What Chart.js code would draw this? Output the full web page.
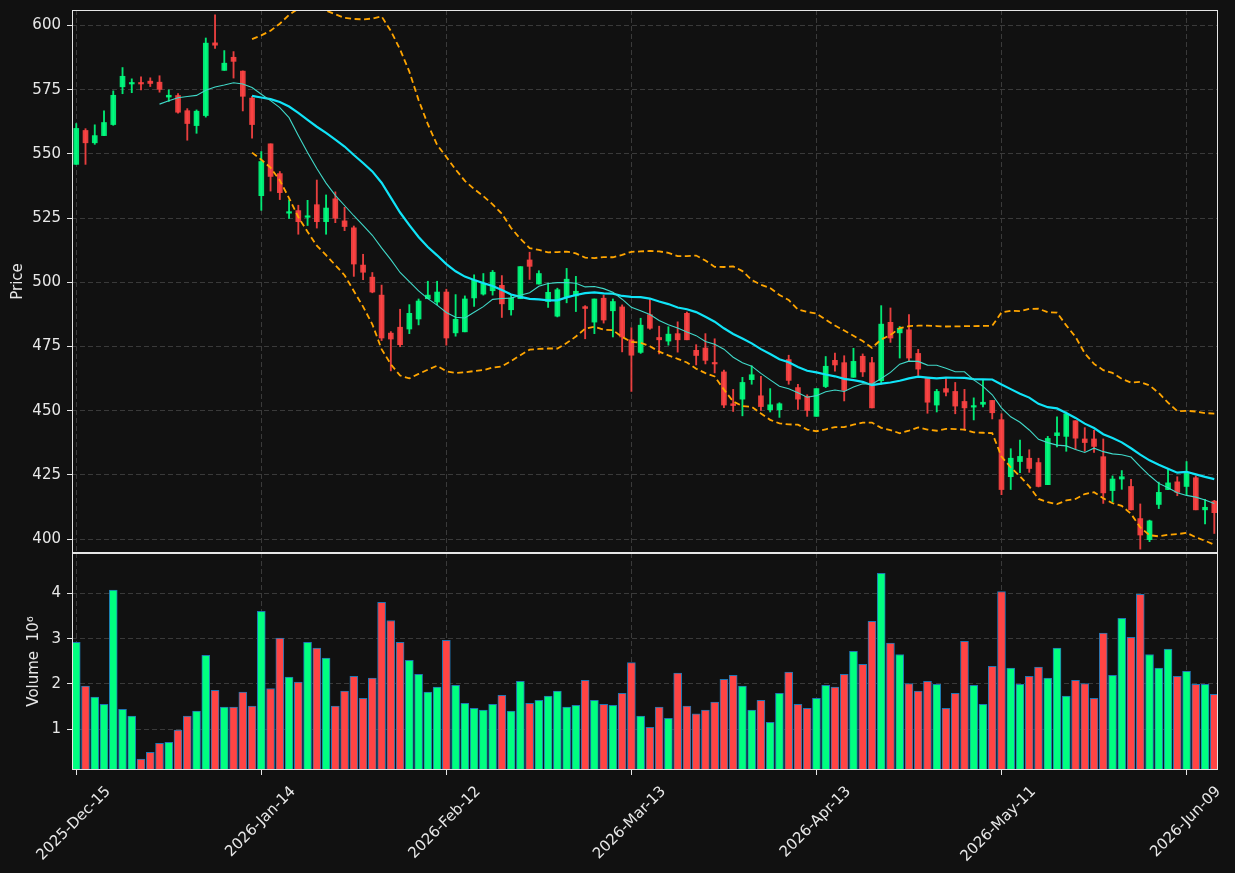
<!DOCTYPE html>
<html>
<head>
<meta charset="utf-8">
<script src="https://cdn.jsdelivr.net/npm/chart.js@4.4.1/dist/chart.umd.min.js"></script>
<style>
  html, body { margin: 0; padding: 0; background: #111111; }
  #wrap { position: relative; width: 1235px; height: 873px; overflow: hidden; }
  #priceChart { position: absolute; left: 0; top: 0; }
  #volumeChart { position: absolute; left: 0; top: 552px; }
</style>
</head>
<body>
<div id="wrap">
  <canvas id="priceChart" width="1235" height="553"></canvas>
  <canvas id="volumeChart" width="1235" height="321"></canvas>
</div>
<script>
// daily OHLC, one entry per trading day
const opens = [
  545.9, 559.1, 554.3, 557.1, 561.4, 576.1, 577.2, 577.5, 578.3, 577.9,
  572.1, 572.7, 566.8, 561.0, 564.9, 593.2, 582.5, 587.6, 582.2, 571.7,
  533.7, 553.9, 542.3, 526.9, 527.9, 525.3, 530.2, 523.6, 532.5, 523.9,
  521.2, 506.7, 502.0, 495.0, 480.2, 482.5, 481.8, 485.7, 493.6, 492.3,
  496.2, 480.3, 480.7, 493.9, 495.4, 496.7, 498.8, 489.3, 493.6, 508.7,
  499.3, 492.5, 486.8, 494.2, 494.7, 490.5, 484.5, 493.8, 488.9, 490.4,
  477.6, 472.7, 487.4, 478.5, 477.1, 480.0, 487.9, 473.5, 474.4, 468.7,
  465.1, 452.7, 454.5, 462.1, 455.8, 450.4, 450.4, 469.9, 459.0, 455.6,
  447.8, 459.4, 469.6, 468.7, 463.0, 471.2, 468.7, 461.7, 484.4, 480.3,
  481.5, 472.3, 462.7, 452.2, 458.6, 457.5, 453.6, 451.4, 452.5, 454.0,
  446.5, 424.3, 430.2, 431.5, 429.8, 421.2, 440.3, 440.0, 446.1, 439.0,
  439.0, 432.1, 418.9, 423.4, 420.5, 408.0, 399.8, 413.5, 419.3, 422.3,
  420.5, 423.9, 411.4, 414.8
];
const highs = [
  561.8, 559.8, 561.3, 566.7, 574.5, 583.6, 579.2, 580.0, 579.6, 580.4,
  574.9, 573.5, 567.6, 567.1, 595.1, 604.1, 590.2, 589.8, 582.3, 572.4,
  550.9, 553.9, 543.1, 532.1, 530.0, 531.9, 539.8, 534.0, 535.2, 529.2,
  521.9, 510.9, 503.8, 498.9, 480.8, 489.5, 491.3, 493.5, 500.4, 500.4,
  497.3, 495.2, 494.7, 502.9, 503.4, 504.6, 502.6, 495.0, 506.1, 511.7,
  504.5, 499.7, 497.7, 505.4, 502.3, 490.9, 493.5, 495.0, 493.5, 491.2,
  482.3, 486.0, 493.6, 482.9, 482.7, 484.6, 488.4, 475.7, 480.0, 478.0,
  465.8, 458.3, 463.0, 467.5, 463.4, 458.6, 453.1, 471.6, 460.3, 456.2,
  458.6, 471.1, 472.4, 471.4, 474.3, 472.1, 470.8, 490.9, 490.0, 482.8,
  487.4, 473.9, 462.7, 458.3, 462.7, 461.0, 458.3, 455.0, 461.9, 454.0,
  448.8, 435.2, 438.6, 434.8, 431.5, 440.0, 447.6, 449.5, 446.1, 443.4,
  442.4, 439.0, 424.6, 426.7, 423.3, 413.7, 407.4, 422.2, 427.3, 424.3,
  430.2, 424.6, 415.5, 415.1
];
const lows = [
  545.9, 545.9, 553.7, 557.1, 561.1, 573.4, 573.8, 574.9, 576.2, 574.0,
  570.4, 565.8, 555.3, 558.0, 564.3, 591.0, 582.5, 579.5, 566.7, 556.1,
  528.0, 535.5, 532.2, 524.9, 518.7, 522.1, 521.1, 518.7, 523.2, 520.1,
  502.3, 501.0, 495.9, 477.3, 465.5, 474.9, 480.0, 483.4, 493.6, 491.2,
  475.5, 479.0, 480.7, 490.6, 495.0, 495.0, 486.3, 487.2, 493.6, 501.1,
  499.3, 490.2, 486.5, 492.0, 488.6, 478.0, 480.0, 484.1, 478.7, 472.9,
  457.5, 472.3, 481.7, 472.1, 475.5, 472.8, 477.6, 467.8, 468.2, 464.7,
  451.2, 449.7, 448.0, 460.3, 450.1, 449.5, 447.4, 460.3, 450.5, 447.8,
  447.8, 459.0, 465.4, 453.8, 463.0, 463.3, 451.1, 460.3, 476.6, 470.5,
  469.5, 463.7, 449.0, 449.5, 455.8, 448.8, 442.4, 446.4, 451.5, 446.8,
  417.3, 419.3, 425.9, 426.0, 420.3, 421.2, 435.9, 434.2, 434.9, 434.2,
  433.8, 413.9, 414.4, 419.4, 411.4, 396.1, 399.0, 411.9, 419.3, 416.9,
  417.3, 411.4, 405.9, 402.2
];
const closes = [
  559.9, 554.3, 557.1, 562.2, 572.8, 580.2, 577.4, 577.2, 577.4, 575.1,
  572.8, 566.2, 561.8, 566.6, 593.1, 592.3, 585.3, 586.0, 572.4, 561.4,
  547.0, 541.2, 534.9, 527.4, 523.6, 525.7, 523.6, 528.9, 524.9, 521.7,
  507.1, 503.9, 496.2, 478.3, 477.9, 475.7, 487.9, 492.7, 495.0, 496.2,
  478.3, 485.6, 493.5, 500.8, 499.5, 503.9, 491.6, 493.9, 506.1, 506.2,
  503.4, 496.1, 497.1, 501.2, 496.5, 489.8, 493.5, 485.3, 492.5, 478.7,
  471.6, 483.3, 482.1, 477.6, 479.8, 477.6, 477.6, 471.5, 469.6, 468.2,
  452.2, 452.0, 461.0, 464.0, 451.6, 452.3, 452.7, 461.8, 454.5, 450.1,
  458.6, 467.3, 467.8, 457.9, 469.2, 465.1, 451.1, 483.7, 478.3, 482.1,
  470.5, 466.2, 453.3, 457.5, 457.2, 451.8, 451.1, 451.9, 453.3, 449.2,
  419.3, 431.5, 432.2, 427.5, 420.5, 439.2, 441.4, 448.8, 439.3, 437.6,
  436.1, 418.0, 423.4, 424.3, 411.4, 401.6, 407.1, 418.2, 421.9, 418.2,
  426.1, 411.4, 412.4, 410.3
];
// volume in millions
const volumes = [
  2.92, 1.95, 1.71, 1.55, 4.07, 1.44, 1.29, 0.34, 0.49, 0.69,
  0.71, 0.98, 1.29, 1.40, 2.63, 1.86, 1.49, 1.49, 1.82, 1.51,
  3.60, 1.90, 3.01, 2.15, 2.04, 2.92, 2.79, 2.57, 1.51, 1.84,
  2.17, 1.68, 2.13, 3.80, 3.40, 2.92, 2.52, 2.21, 1.82, 1.93,
  2.96, 1.97, 1.57, 1.46, 1.42, 1.55, 1.75, 1.40, 2.06, 1.57,
  1.64, 1.73, 1.84, 1.49, 1.53, 2.08, 1.64, 1.55, 1.53, 1.79,
  2.47, 1.29, 1.04, 1.49, 1.24, 2.24, 1.51, 1.34, 1.42, 1.60,
  2.10, 2.19, 1.95, 1.42, 1.64, 1.15, 1.79, 2.26, 1.55, 1.46,
  1.68, 1.97, 1.93, 2.21, 2.72, 2.43, 3.38, 4.44, 2.90, 2.65,
  2.01, 1.84, 2.06, 1.99, 1.46, 1.79, 2.94, 1.97, 1.55, 2.39,
  4.04, 2.35, 1.99, 2.17, 2.37, 2.13, 2.79, 1.73, 2.08, 2.01,
  1.68, 3.12, 2.19, 3.45, 3.03, 3.98, 2.65, 2.35, 2.77, 2.17,
  2.28, 1.99, 1.99, 1.77
];

const tickIndex = [0, 20, 40, 60, 80, 100, 120];
const tickLabels = ['2025-Dec-15', '2026-Jan-14', '2026-Feb-12', '2026-Mar-13', '2026-Apr-13', '2026-May-11', '2026-Jun-09'];
const priceTicks = [400, 425, 450, 475, 500, 525, 550, 575, 600];
const volumeTicks = [1, 2, 3, 4];

Chart.defaults.font.family = "'DejaVu Sans', sans-serif";
Chart.defaults.font.size = 15;
Chart.defaults.color = '#e8e8e8';

const gridColor = '#3a3a3a';
const upCandle = 'rgba(0, 255, 127, 0.9)';
const downCandle = 'rgba(255, 68, 68, 0.9)';

// moving averages + bollinger bands, computed from the closes
function mean(arr) { return arr.reduce((a, b) => a + b, 0) / arr.length; }
const ma10 = [], ma20 = [], bbUpper = [], bbLower = [];
closes.forEach(function (c, i) {
    if (i >= 9) {
        ma10.push({ x: i, y: mean(closes.slice(i - 9, i + 1)) });
    }
    if (i >= 19) {
        const win = closes.slice(i - 19, i + 1);
        const m = mean(win);
        const sd = Math.sqrt(mean(win.map(v => (v - m) * (v - m))));
        ma20.push({ x: i, y: m });
        bbUpper.push({ x: i, y: m + 2 * sd });
        bbLower.push({ x: i, y: m - 2 * sd });
    }
});

const isUp = closes.map((c, i) => c >= opens[i]);

// white box round each panel
const framePlugin = {
    id: 'frame',
    afterDraw(chart) {
        const { ctx, chartArea: a } = chart;
        ctx.save();
        ctx.strokeStyle = '#e6e6e6';
        ctx.lineWidth = 1;
        ctx.strokeRect(a.left + 0.5, a.top + 0.5, a.right - a.left - 1, a.bottom - a.top - 1);
        ctx.restore();
    }
};

function noPadding(scale) {
    scale.paddingLeft = 0; scale.paddingRight = 0;
    scale.paddingTop = 0; scale.paddingBottom = 0;
}

function xScale(showLabels) {
    return {
        type: 'linear',
        min: -0.46,
        max: 123.4,
        offset: false,
        afterBuildTicks: function (axis) {
            axis.ticks = tickIndex.map(v => ({ value: v }));
        },
        afterFit: function (scale) {
            scale.height = showLabels ? 103 : 0;
            noPadding(scale);
        },
        grid: {
            color: gridColor,
            offset: false,
            drawTicks: showLabels,
            tickLength: 5,
            tickColor: '#e6e6e6',
            tickBorderDash: []
        },
        border: { display: false, dash: [5, 3] },
        ticks: {
            display: showLabels,
            autoSkip: false,
            maxRotation: 45,
            minRotation: 45,
            labelOffset: 32,
            padding: 8,
            color: '#e8e8e8',
            callback: function (value) {
                const k = tickIndex.indexOf(value);
                return k >= 0 ? tickLabels[k] : null;
            }
        }
    };
}

function yScale(min, max, ticks, title, titlePad) {
    return {
        position: 'left',
        min: min,
        max: max,
        afterBuildTicks: function (axis) {
            axis.ticks = ticks.map(v => ({ value: v }));
        },
        afterFit: function (scale) {
            scale.width = 72;
            noPadding(scale);
        },
        grid: {
            color: gridColor,
            drawTicks: true,
            tickLength: 5,
            tickColor: '#e6e6e6',
            tickBorderDash: []
        },
        border: { display: false, dash: [5, 3] },
        ticks: { padding: 6, color: '#e8e8e8' },
        title: {
            display: true,
            text: title,
            color: '#e8e8e8',
            font: { size: 15 },
            padding: { top: titlePad, bottom: 0 }
        }
    };
}

// Price panel
new Chart(document.getElementById('priceChart'), {
    type: 'bar',
    data: {
        datasets: [
            {
                type: 'line',
                label: 'MA10',
                data: ma10,
                borderColor: '#40d8c8',
                borderWidth: 1.1,
                pointRadius: 0,
                tension: 0,
                order: 0
            },
            {
                type: 'line',
                label: 'MA20',
                data: ma20,
                borderColor: '#10e4f8',
                borderWidth: 2.2,
                pointRadius: 0,
                tension: 0,
                order: 0
            },
            {
                type: 'line',
                label: 'BB upper',
                data: bbUpper,
                borderColor: '#ffa500',
                borderWidth: 1.8,
                borderDash: [6, 3.5],
                pointRadius: 0,
                tension: 0,
                order: 0
            },
            {
                type: 'line',
                label: 'BB lower',
                data: bbLower,
                borderColor: '#ffa500',
                borderWidth: 1.8,
                borderDash: [6, 3.5],
                pointRadius: 0,
                tension: 0,
                order: 0
            },
            {
                label: 'body',
                data: opens.map((o, i) => ({ x: i, y: [o, closes[i]] })),
                backgroundColor: isUp.map(u => u ? upCandle : downCandle),
                barThickness: 5,
                minBarLength: 1.5,
                grouped: false,
                order: 1
            },
            {
                label: 'wick',
                data: lows.map((l, i) => ({ x: i, y: [l, highs[i]] })),
                backgroundColor: isUp.map(u => u ? upCandle : downCandle),
                barThickness: 1.2,
                grouped: false,
                order: 2
            }
        ]
    },
    options: {
        responsive: false,
        animation: false,
        layout: { padding: { left: 0, right: 17, top: 10, bottom: 0 } },
        plugins: { legend: { display: false }, tooltip: { enabled: false } },
        scales: {
            x: xScale(false),
            y: yScale(394.6, 606.0, priceTicks, 'Price', 9)
        }
    },
    plugins: [framePlugin]
});

// Volume panel
new Chart(document.getElementById('volumeChart'), {
    type: 'bar',
    data: {
        datasets: [{
            label: 'Volume',
            data: volumes.map((v, i) => ({ x: i, y: v })),
            backgroundColor: isUp.map(u => u ? '#00ff80' : '#ff4444'),
            borderColor: '#1f77b4',
            borderWidth: 1,
            barThickness: 8,
            grouped: false
        }]
    },
    options: {
        responsive: false,
        animation: false,
        layout: { padding: { left: 0, right: 17, top: 1, bottom: 0 } },
        plugins: { legend: { display: false }, tooltip: { enabled: false } },
        scales: {
            x: xScale(true),
            y: yScale(0.1, 4.89, volumeTicks, 'Volume  10\u2076', 25)
        }
    },
    plugins: [framePlugin]
});
</script>
</body>
</html>
